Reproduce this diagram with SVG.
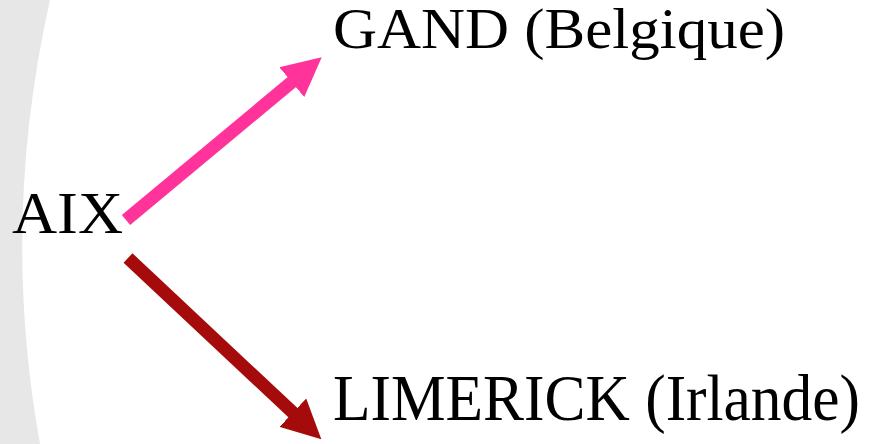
<svg xmlns="http://www.w3.org/2000/svg" width="870" height="444" viewBox="0 0 870 444">
<style>
.lbl{font-family:"Liberation Serif","Times New Roman",serif;fill:#000;}
</style>
<defs>
<marker id="hp" markerUnits="userSpaceOnUse" viewBox="0 -20 40 40" markerWidth="40" markerHeight="40" refX="1" refY="0" orient="auto">
<path d="M0,-19.5 L39,0 L0,19.5 Z" fill="#ff3399"/>
</marker>
<marker id="hr" markerUnits="userSpaceOnUse" viewBox="0 -20 40 40" markerWidth="40" markerHeight="40" refX="1" refY="0" orient="auto">
<path d="M0,-19.5 L39,0 L0,19.5 Z" fill="#a50b0b"/>
</marker>
</defs>
<rect width="870" height="444" fill="#fff"/>
<path d="M0,0 L50,0 Q0,222 40,444 L0,444 Z" fill="#e6e7e6"/>
<g id="connectors">
<line x1="126" y1="220" x2="292.5" y2="81.5" stroke="#ff3399" stroke-width="13" marker-end="url(#hp)"/>
<line x1="128" y1="258" x2="293.6" y2="413.3" stroke="#a50b0b" stroke-width="13" marker-end="url(#hr)"/>
</g>
<g id="aix"><text class="lbl" x="12" y="233" font-size="60" textLength="111" lengthAdjust="spacingAndGlyphs">AIX</text></g>
<g id="gand"><text class="lbl" x="333" y="48" font-size="58" textLength="452" lengthAdjust="spacingAndGlyphs">GAND (Belgique)</text></g>
<g id="limerick"><text class="lbl" x="333" y="420" font-size="66" textLength="527" lengthAdjust="spacingAndGlyphs">LIMERICK (Irlande)</text></g>
</svg>
